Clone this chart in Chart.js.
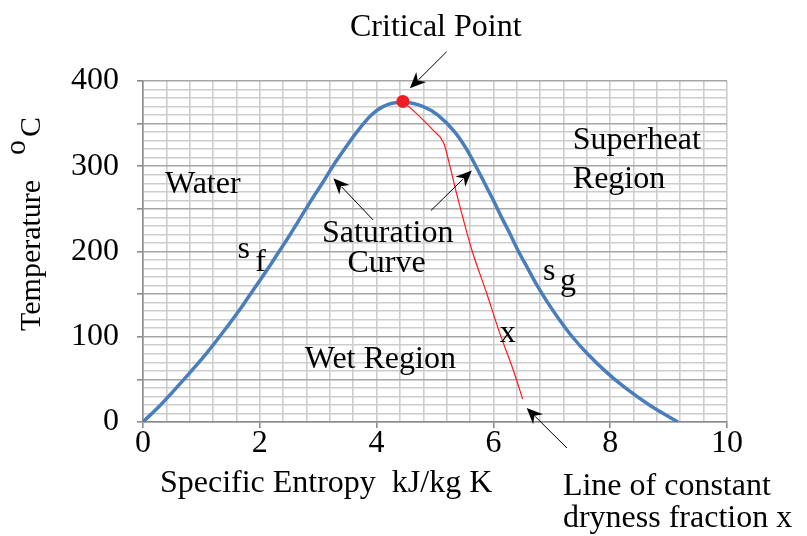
<!DOCTYPE html>
<html>
<head>
<meta charset="utf-8">
<script src="https://cdn.jsdelivr.net/npm/chart.js@4"></script>
<style>
  html, body { margin: 0; padding: 0; background: #ffffff; }
  #wrap { width: 807px; height: 536px; }
</style>
</head>
<body>
<div id="wrap"><canvas id="c" width="807" height="536"></canvas></div>
<script>
// ---- data ----
// saturation dome (specific entropy kJ/kg K, temperature °C)
const satEntropy = [0, 0.30, 0.57, 0.83, 1.08, 1.31, 1.53, 1.74, 1.94, 2.14, 2.33, 2.52, 2.70, 2.88, 3.07, 3.25, 3.45, 3.66, 3.91, 4.11, 4.43, 4.80, 5.05, 5.34, 5.54, 5.70, 5.85, 6.00, 6.14, 6.29, 6.43, 6.59, 6.75, 6.93, 7.13, 7.35, 7.61, 7.91, 8.26, 8.67, 9.16];
const satTemp    = [0, 20, 40, 60, 80, 100, 120, 140, 160, 180, 200, 220, 240, 260, 280, 300, 320, 340, 360, 370, 375, 370, 360, 340, 320, 300, 280, 260, 240, 220, 200, 180, 160, 140, 120, 100, 80, 60, 40, 20, 0];
// line of constant dryness fraction x
const dryEntropy = [4.45, 4.68, 4.97, 5.15, 5.26, 5.37, 5.63, 5.885, 6.11, 6.34, 6.50];
const dryTemp    = [376, 362, 342, 327, 299, 268, 202, 151, 104, 61, 27];
// critical point
const critEntropy = [4.45];
const critTemp    = [376];
// tick labels
const xTickLabels = ['0', '2', '4', '6', '8', '10'];
const yTickLabels = ['0', '100', '200', '300', '400'];

const toPts = (xs, ys) => xs.map((x, i) => ({ x: x, y: ys[i] }));

// ---- annotations (data coordinates) ----
const SERIF = "'Liberation Serif', 'Times New Roman', serif";
const plotTexts = [
  { t: 'Water',      x: 0.377, y: 269,   align: 'left' },
  { t: 'Superheat',  x: 7.36,  y: 320,   align: 'left' },
  { t: 'Region',     x: 7.36,  y: 274.5, align: 'left' },
  { t: 'Saturation', x: 4.19,  y: 211.5, align: 'center' },
  { t: 'Curve',      x: 4.17,  y: 176.3, align: 'center' },
  { t: 'Wet Region', x: 2.77,  y: 63,    align: 'left' },
  { t: 'x',          x: 6.11,  y: 94.2,  align: 'left' },
  { t: 's',          x: 1.62,  y: 192.4, align: 'left' },
  { t: 'f',          x: 1.92,  y: 177,   align: 'left' },
  { t: 's',          x: 6.85,  y: 166.6, align: 'left' },
  { t: 'g',          x: 7.14,  y: 154.8, align: 'left' },
  { t: 'Critical Point',    x: 3.545, y: 452.8, align: 'left' },
  { t: 'Line of constant',  x: 7.19,  y: -86,   align: 'left' },
  { t: 'dryness fraction x',x: 7.19,  y: -123,  align: 'left' },
  { t: 'Specific Entropy  kJ/kg K', x: 0.29, y: -82, align: 'left' }
];
const arrows = [
  { x0: 5.20, y0: 434.4, x1: 4.57, y1: 391.4 },
  { x0: 3.94, y0: 237,   x1: 3.26, y1: 286 },
  { x0: 4.93, y0: 248,   x1: 5.63, y1: 295 },
  { x0: 7.26, y0: -30.5, x1: 6.57, y1: 16.4 }
];

const annotate = {
  id: 'annotate',
  afterDatasetsDraw(chart) {
    const ctx = chart.ctx, xs = chart.scales.x, ys = chart.scales.y;
    ctx.save();
    // arrows
    ctx.strokeStyle = '#000'; ctx.fillStyle = '#000'; ctx.lineWidth = 1;
    arrows.forEach(a => {
      const x0 = xs.getPixelForValue(a.x0), y0 = ys.getPixelForValue(a.y0);
      const x1 = xs.getPixelForValue(a.x1), y1 = ys.getPixelForValue(a.y1);
      const ang = Math.atan2(y1 - y0, x1 - x0);
      const L = 16, W = 7;
      ctx.beginPath(); ctx.moveTo(x0, y0);
      ctx.lineTo(x1 - Math.cos(ang) * (L - 4), y1 - Math.sin(ang) * (L - 4)); ctx.stroke();
      const bx = x1 - Math.cos(ang) * L, by = y1 - Math.sin(ang) * L;
      const nx = -Math.sin(ang), ny = Math.cos(ang);
      const ix = x1 - Math.cos(ang) * (L - 5), iy = y1 - Math.sin(ang) * (L - 5);
      ctx.beginPath();
      ctx.moveTo(x1, y1);
      ctx.lineTo(bx + nx * W, by + ny * W);
      ctx.lineTo(ix, iy);
      ctx.lineTo(bx - nx * W, by - ny * W);
      ctx.closePath(); ctx.fill();
    });
    // texts
    ctx.fillStyle = '#000';
    ctx.font = '32px ' + SERIF;
    ctx.textBaseline = 'alphabetic';
    plotTexts.forEach(p => {
      ctx.textAlign = p.align;
      ctx.fillText(p.t, xs.getPixelForValue(p.x), ys.getPixelForValue(p.y));
    });
    // y axis title (rotated) with superscript o
    ctx.font = '30px ' + SERIF;
    ctx.translate(40, 331);
    ctx.rotate(-Math.PI / 2);
    ctx.textAlign = 'left';
    ctx.fillText('Temperature', 0, 0);
    ctx.fillText('o', 176, -15);
    ctx.fillText('C', 194, 0);
    ctx.restore();
  }
};

const isMult = (v, m) => Math.abs(v / m - Math.round(v / m)) < 1e-6;

new Chart(document.getElementById('c'), {
  type: 'scatter',
  data: {
    datasets: [
      {
        label: 'Critical point',
        data: toPts(critEntropy, critTemp),
        pointRadius: 6.5, pointHoverRadius: 6.5,
        backgroundColor: '#ee1c24', borderWidth: 0,
        order: 0
      },
      {
        label: 'Constant dryness fraction',
        data: toPts(dryEntropy, dryTemp),
        showLine: true, borderColor: '#ff1a1a', borderWidth: 1.2,
        pointRadius: 0, cubicInterpolationMode: 'monotone',
        order: 1
      },
      {
        label: 'Saturation curve',
        data: toPts(satEntropy, satTemp),
        showLine: true, borderColor: '#4a7ebb', borderWidth: 3.5,
        pointRadius: 0, cubicInterpolationMode: 'monotone',
        order: 2
      }
    ]
  },
  options: {
    responsive: false,
    devicePixelRatio: 1,
    animation: false,
    layout: { padding: { top: 81, right: 80, left: 0, bottom: 0 } },
    plugins: { legend: { display: false }, tooltip: { enabled: false } },
    scales: {
      x: {
        type: 'linear', min: 0, max: 10,
        afterFit: s => { s.height = 114; },
        afterBuildTicks: s => {
          const t = [];
          for (let i = 0; i <= 25; i++) t.push({ value: +(i * 0.4).toFixed(4) });
          s.ticks = t;
        },
        ticks: {
          autoSkip: false, maxRotation: 0, padding: 0, color: '#000',
          font: { family: SERIF, size: 32, lineHeight: 1 },
          callback: v => isMult(v, 2) ? xTickLabels[Math.round(v / 2)] : ''
        },
        grid: {
          color: '#cdcdcd', lineWidth: 1.6, tickLength: 6,
          tickColor: c => isMult(c.tick.value, 2) ? '#8c8c8c' : 'rgba(0,0,0,0)'
        },
        border: { color: '#8c8c8c', width: 1.6 }
      },
      y: {
        type: 'linear', min: 0, max: 400,
        afterFit: s => { s.width = 143; },
        ticks: {
          stepSize: 10, autoSkip: false, padding: 18, color: '#000',
          font: { family: SERIF, size: 32, lineHeight: 1 },
          callback: v => isMult(v, 100) ? yTickLabels[Math.round(v / 100)] : ''
        },
        grid: {
          color: c => isMult(c.tick.value, 50) ? '#a6a6a6' : '#cdcdcd',
          lineWidth: 1.6, tickLength: 6,
          tickColor: c => isMult(c.tick.value, 50) ? '#8c8c8c' : 'rgba(0,0,0,0)'
        },
        border: { color: '#8c8c8c', width: 1.6 }
      }
    }
  },
  plugins: [annotate]
});
</script>
</body>
</html>
